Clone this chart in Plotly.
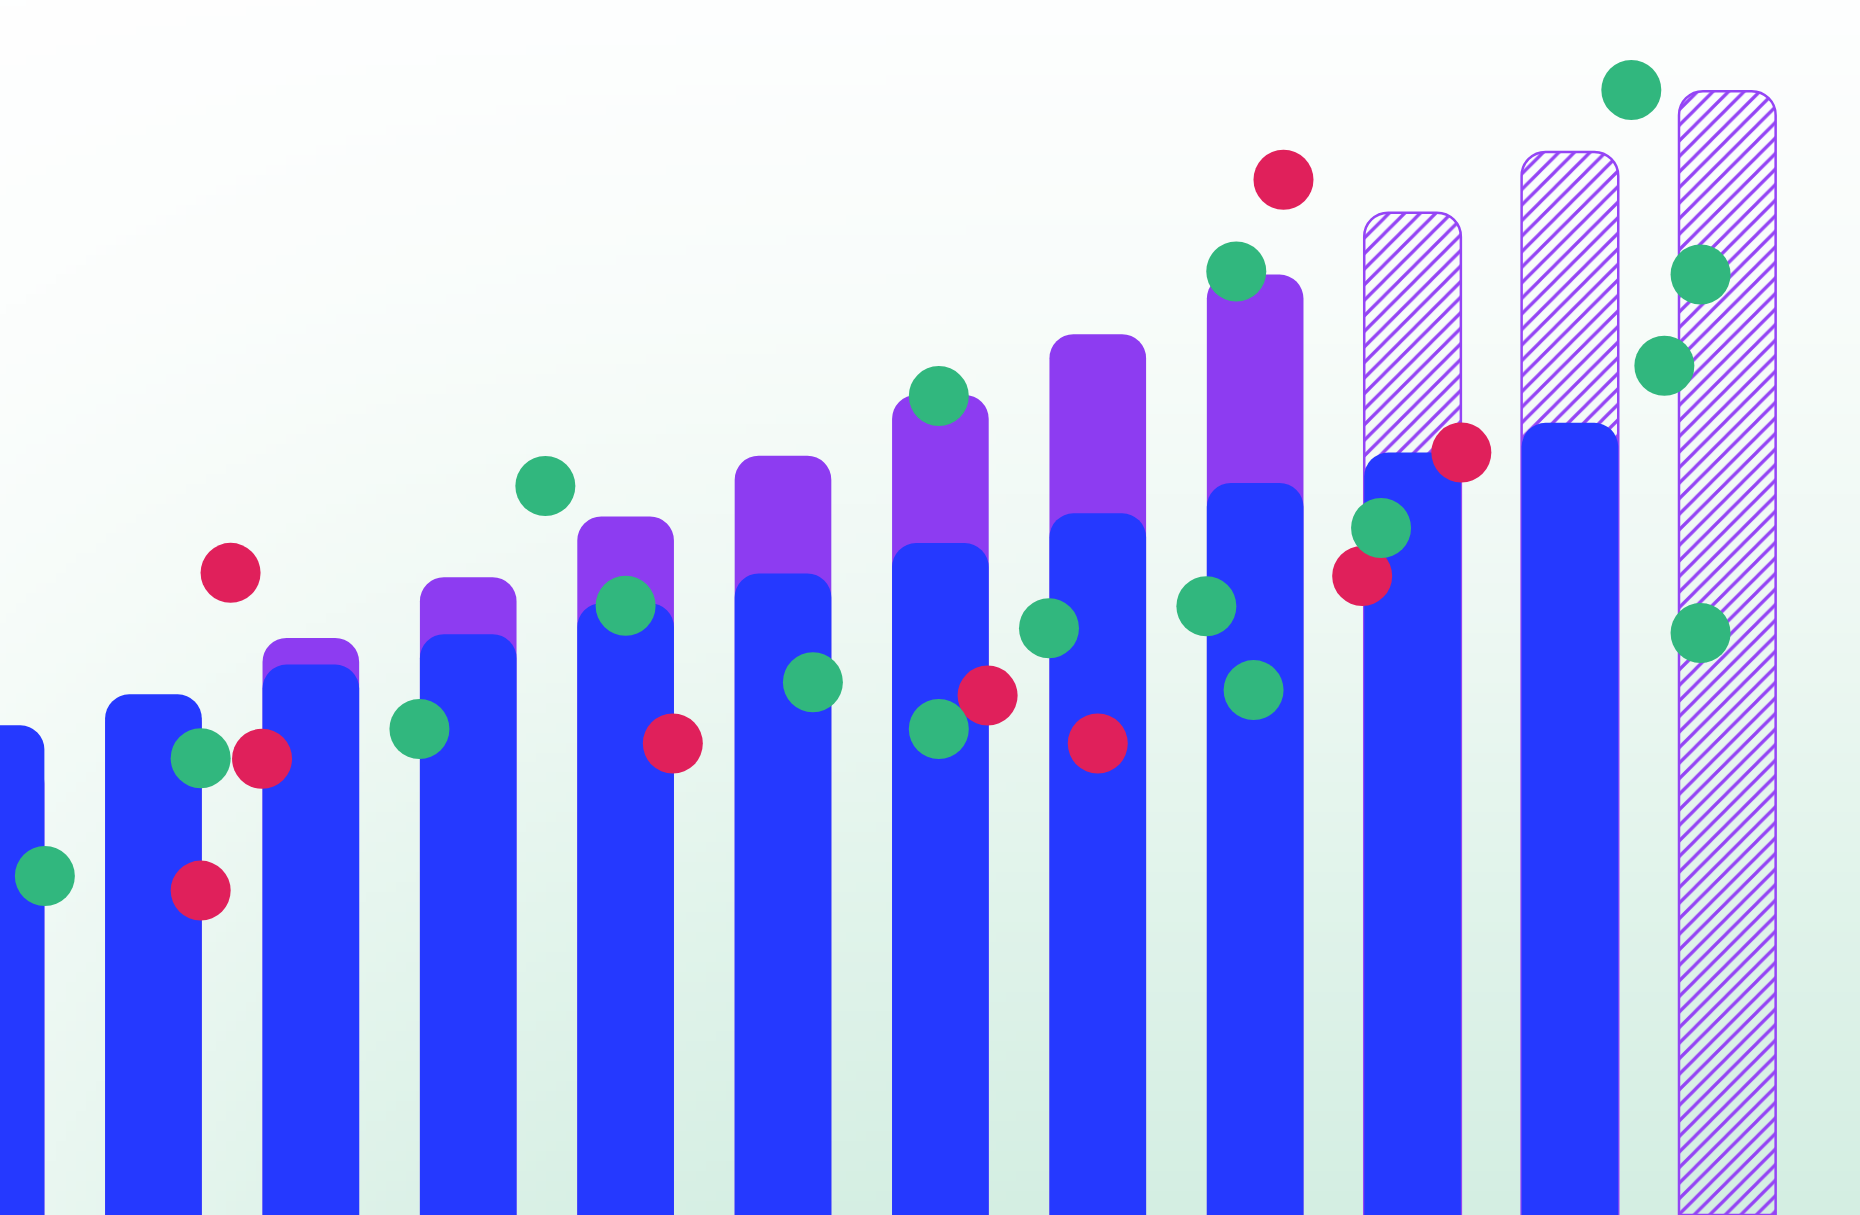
import base64
import struct
import zlib

import plotly.graph_objects as go

# ---------------- data ----------------
positions = [0, 1, 2, 3, 4, 5, 6, 7, 8, 9, 10, 11]
blue_values = [40.3, 42.85, 45.3, 47.8, 50.35, 52.8, 55.3, 57.75, 60.25, 62.75, 65.2, None]
purple_values = [37.5, 42.5, 47.5, 52.5, 57.5, 62.5, 67.5, 72.5, 77.4, None, None, None]
forecast_values = [None, None, None, None, None, None, None, None, None, 82.5, 87.5, 92.5]

green_x = [0.31, 1.30, 2.69, 3.49, 4.00, 5.19, 5.99, 5.99, 6.69, 7.69, 7.88, 7.99, 8.80, 10.39, 10.60, 10.83, 10.83]
green_y = [27.9, 37.6, 40.0, 60.0, 50.15, 43.85, 67.4, 40.0, 48.3, 50.1, 77.65, 43.2, 56.55, 92.6, 69.9, 77.4, 47.9]

red_x = [1.49, 1.30, 1.69, 4.30, 6.30, 7.00, 8.18, 8.68, 9.31]
red_y = [52.85, 26.7, 37.55, 38.8, 42.75, 38.8, 85.2, 52.6, 62.75]

# ---------------- style ----------------
BLUE = "#2539FF"
PURPLE = "#8D3CF1"
HATCH = "#9444F5"
GREEN = "#31B77E"
RED = "#E0205B"
BAR_WIDTH = 0.614
RADIUS = 24
DOT = 60
X_RANGE = [0.025, 11.843]
Y_RANGE = [0, 100]


# ---------------- background gradient image (decoration) ----------------
def _lerp(a, b, t):
    return a + (b - a) * t


def _piecewise(stops, t):
    for (t0, v0), (t1, v1) in zip(stops, stops[1:]):
        if t <= t1:
            f = 0 if t1 == t0 else (t - t0) / (t1 - t0)
            if isinstance(v0, tuple):
                return tuple(_lerp(a, b, f) for a, b in zip(v0, v1))
            return _lerp(v0, v1, f)
    return stops[-1][1]


vert_stops = [
    (0.0, (253, 254, 254)),
    (0.25, (248, 252, 250)),
    (0.5, (238, 248, 243)),
    (0.75, (224, 243, 234)),
    (1.0, (212, 238, 226)),
]
white_stops = [(0.0, 0.52), (0.1, 0.36), (0.2, 0.2), (0.3, 0.1), (0.4, 0.04), (0.55, 0.0), (1.0, 0.0)]


def gradient_png(w, h):
    rows = []
    for j in range(h):
        t = j / (h - 1)
        base = _piecewise(vert_stops, t)
        row = bytearray(b"\x00")
        for i in range(w):
            u = i / (w - 1)
            k = _piecewise(white_stops, u)
            row += bytes(int(round(_lerp(c, 255, k))) for c in base)
        rows.append(bytes(row))
    raw = b"".join(rows)

    def chunk(tag, data):
        return struct.pack(">I", len(data)) + tag + data + struct.pack(">I", zlib.crc32(tag + data) & 0xFFFFFFFF)

    png = (b"\x89PNG\r\n\x1a\n"
           + chunk(b"IHDR", struct.pack(">IIBBBBB", w, h, 8, 2, 0, 0, 0))
           + chunk(b"IDAT", zlib.compress(raw, 9))
           + chunk(b"IEND", b""))
    return "data:image/png;base64," + base64.b64encode(png).decode()


fig = go.Figure()

# back layer (x / y): forecast hatched bars and purple totals
fig.add_trace(go.Bar(
    x=positions, y=forecast_values, width=BAR_WIDTH,
    marker=dict(
        color="rgba(0,0,0,0)",
        cornerradius=RADIUS,
        line=dict(color=HATCH, width=2.5),
        pattern=dict(shape="/", fgcolor=HATCH, bgcolor="rgba(0,0,0,0)", size=11, solidity=0.3, fillmode="replace"),
    ),
    name="forecast", xaxis="x", yaxis="y",
))
fig.add_trace(go.Bar(
    x=positions, y=purple_values, width=BAR_WIDTH,
    marker=dict(color=PURPLE, cornerradius=RADIUS, line=dict(width=0)),
    name="total", xaxis="x", yaxis="y",
))

# front layer (x2 / y2): blue base bars and dots
fig.add_trace(go.Bar(
    x=positions, y=blue_values, width=BAR_WIDTH,
    marker=dict(color=BLUE, cornerradius=RADIUS, line=dict(width=0)),
    name="base", xaxis="x2", yaxis="y2",
))
fig.add_trace(go.Scatter(
    x=red_x, y=red_y, mode="markers",
    marker=dict(color=RED, size=DOT, line=dict(width=0)),
    name="red", xaxis="x2", yaxis="y2",
))
fig.add_trace(go.Scatter(
    x=green_x, y=green_y, mode="markers",
    marker=dict(color=GREEN, size=DOT, line=dict(width=0)),
    name="green", xaxis="x2", yaxis="y2",
))

axis_common = dict(visible=False, showgrid=False, zeroline=False, fixedrange=True)

fig.update_layout(
    width=1860, height=1215,
    margin=dict(l=0, r=0, t=0, b=0, pad=0),
    barmode="overlay",
    showlegend=False,
    hovermode=False,
    paper_bgcolor="#ffffff",
    plot_bgcolor="rgba(0,0,0,0)",
    xaxis=dict(range=X_RANGE, **axis_common),
    yaxis=dict(range=Y_RANGE, **axis_common),
    xaxis2=dict(range=X_RANGE, overlaying="x", anchor="y2", **axis_common),
    yaxis2=dict(range=Y_RANGE, overlaying="y", anchor="x2", **axis_common),
    images=[dict(
        source=gradient_png(186, 122), xref="paper", yref="paper",
        x=0, y=1, sizex=1, sizey=1, xanchor="left", yanchor="top",
        sizing="stretch", layer="below",
    )],
)

fig.write_html(
    "out.html",
    config={"displayModeBar": False, "staticPlot": True},
    post_script="document.body.style.margin='0';document.body.style.overflow='hidden';",
)
